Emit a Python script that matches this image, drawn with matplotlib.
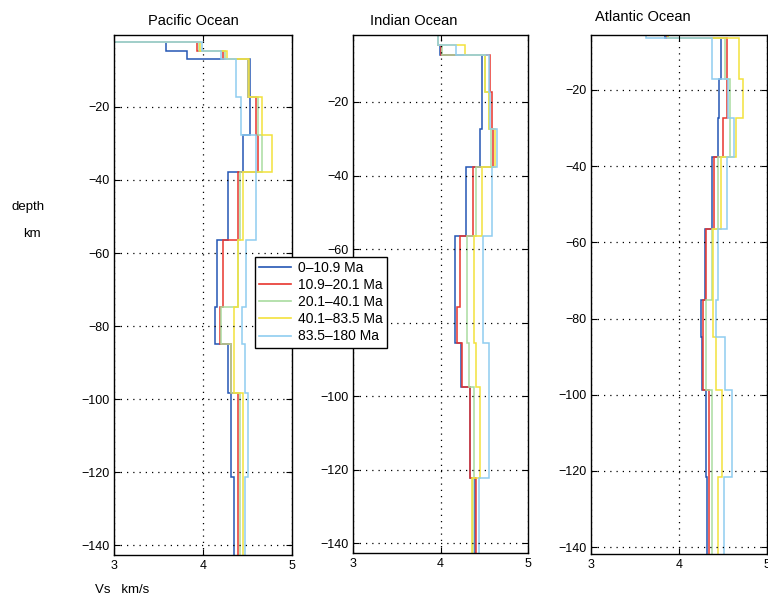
import numpy as np
import matplotlib.pyplot as plt

plt.rcParams['font.family'] = ['Liberation Sans', 'DejaVu Sans']
plt.rcParams['font.size'] = 9

# age groups and colours
labels = ['0–10.9 Ma', '10.9–20.1 Ma', '20.1–40.1 Ma', '40.1–83.5 Ma', '83.5–180 Ma']
colors = ['#2456b4', '#e8352e', '#a9dca0', '#f3e23c', '#8fcdf0']

# layer edges (depth, km) and shear velocity per layer (km/s)
pac_edges = [0, -2.2, -4.6, -6.9, -17.2, -27.7, -37.9, -56.4, -74.8, -84.9, -98.3, -121.3, -143]
pac_vs = [
    [2.0, 3.58, 3.82, 4.53, 4.53, 4.45, 4.28, 4.16, 4.14, 4.28, 4.31, 4.35],
    [2.0, 3.93, 4.22, 4.51, 4.60, 4.62, 4.39, 4.22, 4.19, 4.31, 4.39, 4.39],
    [2.0, 3.95, 4.25, 4.50, 4.62, 4.66, 4.42, 4.39, 4.20, 4.31, 4.42, 4.42],
    [2.0, 3.97, 4.27, 4.52, 4.66, 4.77, 4.45, 4.39, 4.35, 4.35, 4.45, 4.45],
    [2.0, 3.99, 4.20, 4.375, 4.43, 4.59, 4.59, 4.48, 4.44, 4.47, 4.51, 4.47],
]

ind_edges = [0, -1.9, -4.6, -7.2, -17.2, -27.4, -37.6, -56.4, -75.6, -85.6, -97.4, -122.3, -143]
ind_vs = [
    [2.0, 3.97, 3.99, 4.47, 4.47, 4.45, 4.29, 4.16, 4.16, 4.23, 4.34, 4.39],
    [2.0, 3.97, 4.00, 4.57, 4.59, 4.60, 4.37, 4.22, 4.19, 4.25, 4.34, 4.40],
    [2.0, 3.97, 4.02, 4.51, 4.55, 4.58, 4.41, 4.30, 4.30, 4.32, 4.38, 4.37],
    [2.0, 3.97, 4.28, 4.51, 4.55, 4.62, 4.47, 4.38, 4.38, 4.41, 4.45, 4.36],
    [2.0, 3.97, 4.18, 4.55, 4.57, 4.64, 4.59, 4.49, 4.49, 4.55, 4.55, 4.44],
]

atl_edges = [-5.0, -6.4, -17.2, -27.4, -37.5, -56.6, -75.1, -84.9, -98.7, -121.6, -143]
atl_vs = [
    [3.84, 4.48, 4.46, 4.44, 4.38, 4.30, 4.25, 4.26, 4.31, 4.32],
    [3.86, 4.54, 4.54, 4.50, 4.40, 4.31, 4.27, 4.27, 4.34, 4.34],
    [3.87, 4.52, 4.58, 4.58, 4.44, 4.37, 4.31, 4.31, 4.37, 4.38],
    [3.88, 4.68, 4.73, 4.65, 4.48, 4.39, 4.39, 4.42, 4.49, 4.44],
    [3.63, 4.38, 4.56, 4.63, 4.54, 4.44, 4.42, 4.52, 4.60, 4.51],
]

W, H = 768, 604
fig = plt.figure(figsize=(W / 100, H / 100), dpi=100)

# title, edges, values, axes box (px), ylim, title left x / centre y (px)
panels = [
    ('Pacific Ocean', pac_edges, pac_vs, (114, 35, 178, 520), (-142.7, -0.3), (148, 21)),
    ('Indian Ocean', ind_edges, ind_vs, (353, 35, 175, 518), (-142.6, -1.8), (370, 21)),
    ('Atlantic Ocean', atl_edges, atl_vs, (591, 35, 176, 519), (-141.8, -5.6), (595, 17)),
]

handles = []
for title, edges, vs, (x0, y0, w, h), ylim, (tx, ty) in panels:
    ax = fig.add_axes([x0 / W, 1 - (y0 + h) / H, w / W, h / H])
    for k in range(5):
        ax.stairs(vs[k], edges, orientation='horizontal', baseline=None,
                  color=colors[k], lw=1.1)
        if title == 'Pacific Ocean':
            handles.append(plt.Line2D([], [], color=colors[k], lw=1.2))
    ax.set_xlim(3, 5)
    ax.set_ylim(*ylim)
    ax.set_xticks([3, 4, 5])
    ax.set_yticks(np.arange(-140, -19, 20))
    ax.grid(True, linestyle=(0, (1, 4)), color='black', lw=0.9)
    ax.tick_params(direction='in', top=True, right=True, length=4, labelsize=9)
    for s in ax.spines.values():
        s.set_linewidth(1.0)
    fig.text(tx / W, 1 - ty / H, title, fontsize=10.5, ha='left', va='center')

# legend sits over the gap between the first two panels
fig.legend(handles, labels, loc='upper left', bbox_to_anchor=(255 / W, 1 - 257 / H),
           fancybox=False, edgecolor='black', framealpha=1, fontsize=10,
           handlelength=2.3, borderpad=0.3, labelspacing=0.22, handletextpad=0.5,
           borderaxespad=0)

fig.text(12 / W, 1 - 207 / H, 'depth', fontsize=9.5, va='center')
fig.text(23 / W, 1 - 234 / H, 'km', fontsize=9.5, va='center')
fig.text(95 / W, 1 - 590 / H, 'Vs   km/s', fontsize=9.5, va='center')

plt.savefig('out.png', dpi=100)
